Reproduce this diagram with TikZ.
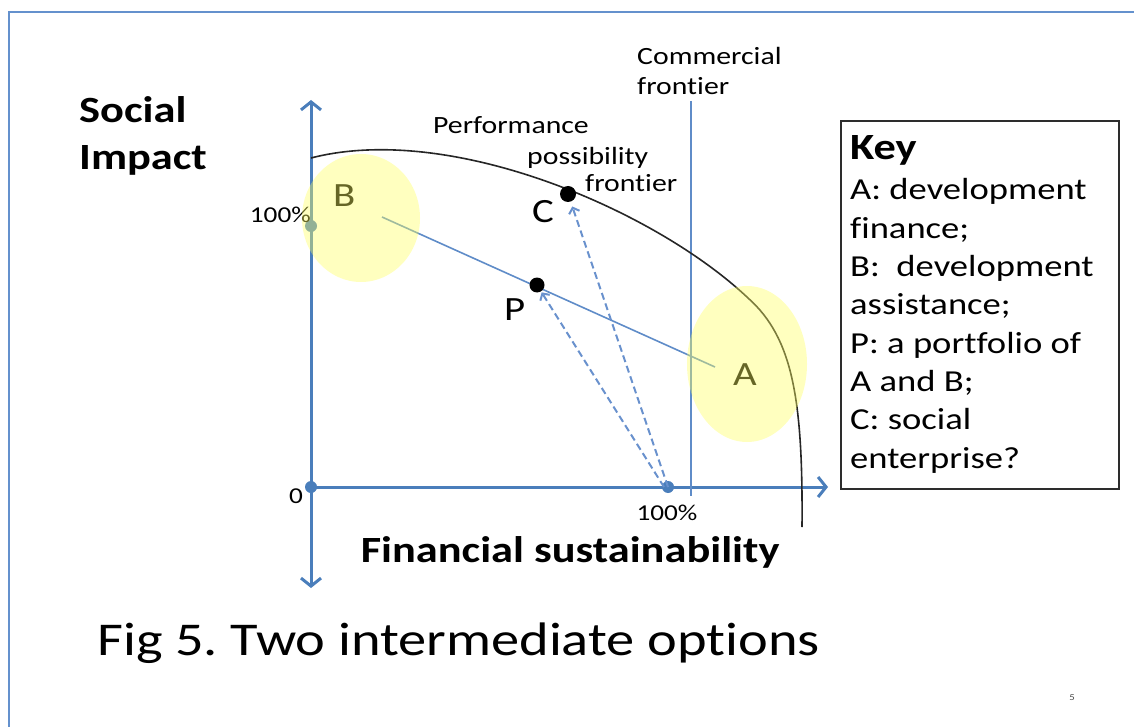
\documentclass[tikz,border=0pt]{standalone}
\usepackage{fontspec}
\setmainfont{Carlito}[FakeStretch=1.2,Ligatures={NoCommon}]
\usetikzlibrary{arrows.meta}
\definecolor{axisblue}{RGB}{74,126,187}
\definecolor{lineblue}{RGB}{95,140,200}
\definecolor{dashblue}{RGB}{105,145,205}
\definecolor{borderblue}{RGB}{100,145,205}
\definecolor{hl}{RGB}{255,255,95}
\definecolor{keygray}{RGB}{45,45,45}
\frenchspacing
\begin{document}
\begin{tikzpicture}[x=1pt,y=-1pt,
  axis/.style={draw=axisblue,line width=3pt},
  axdot/.style={circle,fill=axisblue,inner sep=0pt,minimum size=12pt},
  blackdot/.style={circle,fill=black,inner sep=0pt,minimum size=16pt},
  mix/.style={draw=lineblue,line width=1.6pt},
  dasharrow/.style={draw=dashblue,line width=2pt,dash pattern=on 7pt off 4pt,-{Straight Barb[length=5pt,width=11pt]}},
  ppf/.style={draw=black!85,line width=1.6pt},
  txt/.style={inner sep=0pt,anchor=base west},
  big/.style={txt,font=\fontsize{37}{44}\selectfont\bfseries},
  mid/.style={txt,font=\fontsize{24.8}{30}\selectfont},
  small/.style={inner sep=0pt,font=\fontsize{22.7}{27}\selectfont},
  letter/.style={txt,font=\fontsize{34}{40}\selectfont},
  keytext/.style={txt,font=\fontsize{30.5}{38}\selectfont},
  hilite/.style={fill=hl,fill opacity=0.4,draw=none}
]
\useasboundingbox (0,0) rectangle (1134,727);
% slide border
\draw[borderblue,line width=2pt] (1134,12) -- (9,12) -- (9,727);

% axes
\coordinate (ytop) at (311,100);
\coordinate (ybot) at (311,588);
\coordinate (xend) at (828,487);
\node[axdot] (origin) at (311,487) {};
\node[axdot] (y100) at (311,226) {};
\node[axdot] (x100) at (668,487) {};
\draw[axis,{Straight Barb[length=8pt,width=20pt]}-{Straight Barb[length=8pt,width=20pt]}] (ybot) -- (ytop);
\draw[axis,-{Straight Barb[length=8pt,width=20pt]}] (origin.center) -- (xend);

% commercial frontier
\coordinate (cftop) at (691,101);
\coordinate (cfbot) at (691,496);
\draw[mix,line width=2pt] (cftop) -- (cfbot);

% performance possibility frontier
\coordinate (ppfa) at (311,158);
\coordinate (ppfb) at (748,298);
\coordinate (ppfc) at (802,527);
\draw[ppf] (ppfa) .. controls (450,122) and (655,210) .. (ppfb)
               .. controls (793,338) and (803,400) .. (ppfc);

% labels
\node[big] (si1) at (79,123) {Social};
\node[big] (si2) at (79,170) {Impact};
\node[mid] (cf1) at (637,65) {Commercial};
\node[mid] (cf2) at (637,95) {frontier};
\node[mid] (pp1) at (433,134) {Performance};
\node[mid] (pp2) at (527,165) {possibility};
\node[mid] (pp3) at (585,192) {frontier};
\node[small,anchor=base east] (l100y) at (311,223) {100\%};
\node[small,anchor=base] (l0) at (296,503) {0};
\node[small,anchor=base] (l100x) at (667,520) {100\%};
\node[big,anchor=base] (xlab) at (570,562) {Financial sustainability};
\node[txt,font=\fontsize{47}{56}\selectfont] (title) at (97,655) {Fig 5. Two intermediate options};
\node[inner sep=0pt,anchor=base,font=\fontsize{9}{10}\selectfont,text=black!70] (pg) at (1072,700) {5};

% points
\node[letter] (lB) at (333,207) {B};
\node[letter] (lA) at (733,385) {A};
\node[letter] (lC) at (532,223) {C};
\node[letter] (lP) at (504,320) {P};
\coordinate (Bend) at (382,217);
\coordinate (Aend) at (715,367);
\draw[mix] (Bend) -- (Aend);
\node[blackdot,minimum size=15pt] (P) at (537,285) {};
\node[blackdot] (C) at (568,194) {};
\draw[dasharrow,shorten >=1pt] ([xshift=-4pt]x100.center) -- (P);
\draw[dasharrow,shorten >=5pt] (x100.center) -- (C);

% highlight ellipses
\fill[hilite] (361,218) ellipse [x radius=59,y radius=64];
\fill[hilite] (747,364) ellipse [x radius=60,y radius=78];

% key
\node[draw=keygray,line width=2pt,anchor=north west,minimum width=278pt,minimum height=368pt,inner sep=0pt] (key) at (840,120) {};
\node[txt,font=\fontsize{37}{44}\selectfont\bfseries] (k0) at (850,160) {Key};
\foreach \t [count=\i from 0] in {A: development,finance;,B:~ development,assistance;,P: a portfolio of,A and B;,C: social,enterprise?}
  \node[keytext] (k\i) at (850,200+38.3*\i) {\t};
\end{tikzpicture}
\end{document}
